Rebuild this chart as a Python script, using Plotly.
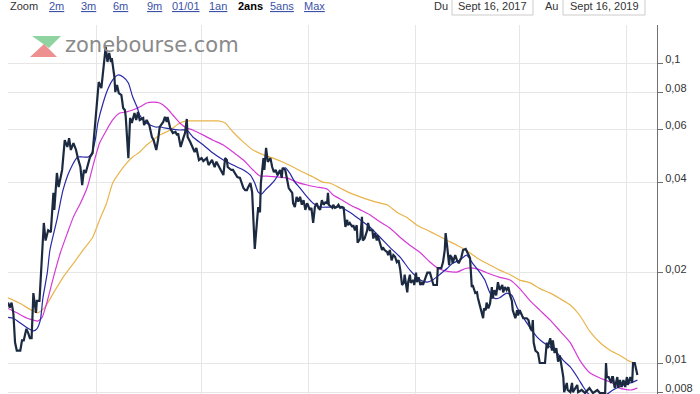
import plotly.graph_objects as go
import pandas as pd

# ---------------- data ----------------
BASE = pd.Timestamp("2017-09-16")  # "Du" date; offsets below are days after it

price_days = [5, 7, 9, 11, 13, 15, 19, 21, 23, 26, 28, 30, 32, 34, 37, 38, 41, 43, 45, 46, 48, 51, 54, 57, 58,
              61, 63, 67, 70, 73, 75, 77, 80, 83, 85, 88, 90, 92, 94, 97, 99, 102, 105, 107, 109, 112, 114, 115,
              117, 119, 121, 123, 124, 127, 128, 130, 132, 135, 137, 139, 140, 143, 145, 147, 150, 152, 154, 156,
              160, 161, 164, 167, 170, 172, 175, 177, 179,
              183, 185, 187, 188, 191, 193, 194, 197, 199, 200, 203, 206, 208, 210, 211, 214, 216, 217, 219, 221,
              224, 227, 229, 233, 235, 239, 240, 242, 244, 247, 250, 252, 254, 256, 257, 261, 263, 265, 268, 271,
              273, 275, 277, 279, 280, 283, 285, 286, 288, 291, 292, 294, 295, 298, 299, 301, 302, 303, 306, 308,
              310, 312, 314, 315, 317, 319, 320, 323, 325, 327, 331, 332, 334, 336, 338, 340, 342, 344, 346, 348,
              349, 351, 353, 355, 357, 359, 361, 363,
              365, 367, 369, 371, 372, 373, 377, 378, 380, 382, 384, 386, 388, 390, 392, 394, 395, 397, 400, 401,
              403, 405, 406, 409, 411, 412, 414, 417, 418, 420, 423, 424, 426, 428, 429, 432, 434, 435, 437, 440,
              441, 443, 445, 447, 449, 451, 453, 455, 457, 459, 460, 462, 463, 464, 466, 467, 470, 471, 473, 474,
              476, 478, 480, 481, 483, 486, 489, 491, 493, 497, 498, 502, 504, 506, 507, 509, 511, 512, 514, 515,
              518, 520, 522, 525, 527, 530, 533, 535, 537, 538, 541, 543, 544, 546,
              549, 550, 551, 553, 554, 556, 558, 560, 561, 563, 565, 567, 569, 572, 573, 575, 577, 579, 581, 583,
              584, 587, 589, 590, 592, 595, 596, 600, 602, 604, 606, 607, 608, 610, 613, 615, 621, 623, 624, 627,
              629, 630, 632, 634, 636, 638, 640, 642, 643, 646, 647, 650, 652, 653, 658, 659, 663, 667, 672, 676,
              681, 684, 690, 691, 692, 694, 697, 698, 699, 701, 704, 705, 707, 709, 711, 713, 715, 716, 719, 721,
              722, 724, 727]
price_values = [0.0159, 0.0153, 0.0159, 0.0147, 0.0117, 0.0110, 0.0110, 0.0119, 0.0119, 0.0130, 0.0126, 0.0121,
                0.0121, 0.0171, 0.0147, 0.0161, 0.0161, 0.0204, 0.0251, 0.0293, 0.0256, 0.0277, 0.0273, 0.0369,
                0.0324, 0.0430, 0.0386, 0.0440, 0.0553, 0.0525, 0.0562, 0.0513, 0.0541, 0.0513, 0.0482, 0.0450,
                0.0392, 0.0440, 0.0430, 0.0464, 0.0486, 0.0501, 0.0646, 0.0770, 0.0864, 0.0825, 0.0926, 0.1000,
                0.1131, 0.1008, 0.1080, 0.1008, 0.1039, 0.0898, 0.0800, 0.0845, 0.0794, 0.0782, 0.0708, 0.0697,
                0.0661, 0.0482, 0.0656, 0.0631, 0.0681, 0.0646, 0.0687, 0.0646, 0.0656, 0.0621, 0.0646, 0.0621,
                0.0567, 0.0553, 0.0513, 0.0553, 0.0612,
                0.0636, 0.0661, 0.0636, 0.0661, 0.0607, 0.0589, 0.0584, 0.0589, 0.0575, 0.0584, 0.0525, 0.0562,
                0.0584, 0.0651, 0.0567, 0.0545, 0.0525, 0.0521, 0.0505, 0.0521, 0.0475, 0.0482, 0.0471, 0.0482,
                0.0457, 0.0475, 0.0468, 0.0450, 0.0469, 0.0450, 0.0433, 0.0423, 0.0482, 0.0475, 0.0450, 0.0440,
                0.0440, 0.0430, 0.0417, 0.0414, 0.0398, 0.0383, 0.0377, 0.0377, 0.0383, 0.0398, 0.0371, 0.0316,
                0.0240, 0.0307, 0.0331, 0.0318, 0.0398, 0.0482, 0.0440, 0.0521, 0.0486, 0.0468, 0.0482, 0.0450,
                0.0433, 0.0440, 0.0423, 0.0430, 0.0440, 0.0414, 0.0447, 0.0440, 0.0407, 0.0383, 0.0369, 0.0341,
                0.0331, 0.0358, 0.0345, 0.0358, 0.0337, 0.0349, 0.0324, 0.0341, 0.0337, 0.0324, 0.0329, 0.0293,
                0.0331, 0.0341, 0.0329, 0.0324,
                0.0349, 0.0337, 0.0343, 0.0341, 0.0369, 0.0337, 0.0329, 0.0337, 0.0329, 0.0331, 0.0337, 0.0329,
                0.0331, 0.0329, 0.0284, 0.0300, 0.0288, 0.0293, 0.0284, 0.0288, 0.0277, 0.0288, 0.0252, 0.0260,
                0.0307, 0.0256, 0.0260, 0.0277, 0.0293, 0.0277, 0.0277, 0.0260, 0.0271, 0.0256, 0.0267, 0.0251,
                0.0238, 0.0243, 0.0238, 0.0234, 0.0229, 0.0238, 0.0220, 0.0229, 0.0226, 0.0217, 0.0220, 0.0204,
                0.0182, 0.0185, 0.0197, 0.0179, 0.0172, 0.0186, 0.0197, 0.0185, 0.0189, 0.0182, 0.0200, 0.0186,
                0.0193, 0.0182, 0.0186, 0.0182, 0.0189, 0.0200, 0.0200, 0.0189, 0.0182, 0.0182, 0.0207, 0.0207,
                0.0217, 0.0238, 0.0271, 0.0241, 0.0212, 0.0229, 0.0225, 0.0215, 0.0229, 0.0220, 0.0215, 0.0225,
                0.0238, 0.0240, 0.0229, 0.0224, 0.0179, 0.0182, 0.0171, 0.0172, 0.0165, 0.0156,
                0.0147, 0.0141, 0.0152, 0.0150, 0.0159, 0.0152, 0.0158, 0.0179, 0.0164, 0.0175, 0.0168, 0.0186,
                0.0175, 0.0182, 0.0172, 0.0179, 0.0175, 0.0179, 0.0168, 0.0161, 0.0150, 0.0141, 0.0150, 0.0144,
                0.0150, 0.0142, 0.0141, 0.0141, 0.0139, 0.0131, 0.0128, 0.0139, 0.0117, 0.0110, 0.0108, 0.0100,
                0.0100, 0.0117, 0.0112, 0.0121, 0.0110, 0.0119, 0.0108, 0.0112, 0.0101, 0.0106, 0.00985, 0.00898,
                0.0080, 0.00858, 0.00813, 0.0080, 0.00858, 0.0080, 0.00845, 0.0080, 0.00813, 0.00794, 0.00825,
                0.00794, 0.00813, 0.00794, 0.00794, 0.0100, 0.00898, 0.00898, 0.00858, 0.00898, 0.00898, 0.00825,
                0.00898, 0.00825, 0.00878, 0.00832, 0.00878, 0.00832, 0.00898, 0.00845, 0.00898, 0.00858, 0.0100,
                0.0100, 0.00912]

ma_short_days = [5, 11, 19, 27, 34, 38, 42, 45, 50, 53, 61, 68, 76, 85, 91, 97, 101, 105, 108, 114, 120, 125,
                 131, 137, 143, 148, 153, 156, 162, 168, 174, 179, 191, 202, 210, 217, 229, 240, 252, 263, 275,
                 283, 288, 292, 296, 300, 306, 311, 317, 323, 328, 334, 340, 348, 355, 363, 374, 386, 397, 409,
                 420, 432, 443, 455, 466, 478, 486, 492, 500, 509, 515, 523, 531, 538, 546, 552, 558, 564, 569,
                 577, 583, 589, 596, 604, 612, 619, 627, 635, 642, 650, 658, 665, 670, 678, 690, 699, 711, 722, 727]
ma_short_values = [0.0142, 0.0141, 0.0136, 0.0131, 0.0128, 0.0130, 0.0139, 0.0165, 0.0200, 0.0238, 0.0300,
                   0.0377, 0.0440, 0.0486, 0.0486, 0.0486, 0.0501, 0.0553, 0.0631, 0.0736, 0.0825, 0.0878,
                   0.0912, 0.0898, 0.0858, 0.0770, 0.0713, 0.0671, 0.0636, 0.0621, 0.0612, 0.0612, 0.0603,
                   0.0598, 0.0598, 0.0567, 0.0533, 0.0501, 0.0475, 0.0457, 0.0440, 0.0423, 0.0398, 0.0371,
                   0.0366, 0.0377, 0.0392, 0.0407, 0.0433, 0.0447, 0.0430, 0.0401, 0.0383, 0.0358, 0.0341,
                   0.0331, 0.0331, 0.0331, 0.0318, 0.0300, 0.0284, 0.0262, 0.0243, 0.0225, 0.0204, 0.0189,
                   0.0186, 0.0189, 0.0197, 0.0207, 0.0215, 0.0220, 0.0229, 0.0215, 0.0201, 0.0189, 0.0171,
                   0.0164, 0.0165, 0.0171, 0.0168, 0.0153, 0.0142, 0.0131, 0.0122, 0.0117, 0.0113, 0.0108,
                   0.0102, 0.0097, 0.00898, 0.00832, 0.00794, 0.00764, 0.0078, 0.00813, 0.00845, 0.00864, 0.00878]

ma_mid_days = [5, 15, 27, 34, 39, 44, 50, 57, 65, 73, 80, 88, 96, 102, 110, 118, 125, 133, 141, 148, 156, 164,
               171, 179, 187, 194, 202, 210, 217, 229, 240, 252, 263, 275, 286, 294, 302, 313, 325, 336, 348,
               359, 371, 378, 386, 397, 409, 420, 432, 443, 455, 466, 478, 489, 498, 509, 520, 531, 543, 554,
               569, 581, 592, 604, 615, 627, 638, 650, 661, 672, 684, 696, 707, 719, 727]
ma_mid_values = [0.0152, 0.0147, 0.0141, 0.0139, 0.0138, 0.0142, 0.0161, 0.0193, 0.0233, 0.0271, 0.0307,
                 0.0341, 0.0386, 0.0450, 0.0541, 0.0598, 0.0646, 0.0681, 0.0687, 0.0697, 0.0713, 0.0736,
                 0.0741, 0.0736, 0.0708, 0.0671, 0.0631, 0.0607, 0.0598, 0.0575, 0.0553, 0.0533, 0.0505,
                 0.0475, 0.0440, 0.0420, 0.0420, 0.0417, 0.0414, 0.0401, 0.0392, 0.0386, 0.0380, 0.0363,
                 0.0352, 0.0337, 0.0324, 0.0312, 0.0295, 0.0282, 0.0262, 0.0247, 0.0233, 0.0217, 0.0207,
                 0.0202, 0.0201, 0.0207, 0.0206, 0.0200, 0.0193, 0.0189, 0.0177, 0.0161, 0.0150, 0.0139,
                 0.0128, 0.0117, 0.0102, 0.0093, 0.00891, 0.00864, 0.00825, 0.00813, 0.00825]

ma_long_days = [5, 19, 30, 39, 47, 57, 68, 80, 91, 102, 110, 118, 125, 133, 141, 148, 156, 164, 171, 179, 191,
                202, 211, 225, 237, 246, 254, 263, 275, 286, 298, 309, 320, 332, 343, 355, 366, 374, 386, 397,
                409, 420, 432, 440, 451, 463, 474, 486, 497, 509, 520, 532, 543, 554, 569, 581, 592, 604, 615,
                627, 638, 650, 661, 672, 684, 696, 707, 716, 724]
ma_long_values = [0.0165, 0.0158, 0.0151, 0.0147, 0.0153, 0.0171, 0.0193, 0.0215, 0.0238, 0.0262, 0.0300,
                  0.0341, 0.0398, 0.0433, 0.0464, 0.0486, 0.0505, 0.0533, 0.0553, 0.0575, 0.0598, 0.0631,
                  0.0641, 0.0641, 0.0641, 0.0641, 0.0631, 0.0589, 0.0545, 0.0513, 0.0494, 0.0482, 0.0468,
                  0.0450, 0.0433, 0.0417, 0.0401, 0.0398, 0.0383, 0.0369, 0.0358, 0.0349, 0.0341, 0.0337,
                  0.0318, 0.0305, 0.0288, 0.0277, 0.0267, 0.0256, 0.0247, 0.0236, 0.0224, 0.0215, 0.0204,
                  0.0197, 0.0189, 0.0185, 0.0177, 0.0171, 0.0164, 0.0156, 0.0144, 0.0128, 0.0117, 0.0110,
                  0.0106, 0.0102, 0.0100]

y_tick_values = [0.008, 0.01, 0.02, 0.04, 0.06, 0.08, 0.1]
y_tick_labels = ["0,008", "0,01", "0,02", "0,04", "0,06", "0,08", "0,1"]
grid_dates = ["2018-01-01", "2018-05-01", "2018-09-01", "2019-01-01", "2019-05-01", "2019-09-01"]
zoom_buttons = ["2m", "3m", "6m", "9m", "01/01", "1an", "2ans", "5ans", "Max"]
active_button = "2ans"
date_from = "Sept 16, 2017"
date_to = "Sept 16, 2019"


def to_dates(days):
    return [BASE + pd.Timedelta(days=d) for d in days]


# ---------------- layout geometry ----------------
W, H = 700, 394
L, R, T, B = 8, 657, 25, 394   # plot area in pixels


def px(x):
    return (x - L) / (R - L)


def py(y):
    return (B - y) / (B - T)


FONT = "Liberation Sans, Arial, sans-serif"

fig = go.Figure()
fig.add_trace(go.Scatter(x=to_dates(ma_long_days), y=ma_long_values, mode="lines",
                         line=dict(color="#e9b44c", width=1.2, shape="spline", smoothing=0.5), hoverinfo="skip"))
fig.add_trace(go.Scatter(x=to_dates(ma_mid_days), y=ma_mid_values, mode="lines",
                         line=dict(color="#d63ad6", width=1.2, shape="spline", smoothing=0.6), hoverinfo="skip"))
fig.add_trace(go.Scatter(x=to_dates(ma_short_days), y=ma_short_values, mode="lines",
                         line=dict(color="#2828a8", width=1.2, shape="spline", smoothing=0.6), hoverinfo="skip"))
fig.add_trace(go.Scatter(x=to_dates(price_days), y=price_values, mode="lines",
                         line=dict(color="#1b2a41", width=2.2), hoverinfo="skip"))

annotations = []
shapes = []

# range selector
annotations.append(dict(text="Zoom", x=px(8), y=py(6), xref="paper", yref="paper", xanchor="left",
                        yanchor="middle", showarrow=False, font=dict(family=FONT, size=11, color="#333333")))
btn_x = [47, 79, 111, 145, 170, 207, 236, 268, 302]
for lab, bx in zip(zoom_buttons, btn_x):
    if lab == active_button:
        txt, col = "<b>" + lab + "</b>", "#000000"
    else:
        txt, col = "<u>" + lab + "</u>", "#3b52a8"
    annotations.append(dict(text=txt, x=px(bx), y=py(6), xref="paper", yref="paper", xanchor="left",
                            yanchor="middle", showarrow=False, font=dict(family=FONT, size=11, color=col)))

# date inputs
for lab, lx in (("Du", 432), ("Au", 543)):
    annotations.append(dict(text=lab, x=px(lx), y=py(6), xref="paper", yref="paper", xanchor="left",
                            yanchor="middle", showarrow=False, font=dict(family=FONT, size=11, color="#333333")))
for txt, x0, x1 in ((date_from, 452, 533), (date_to, 563, 645)):
    shapes.append(dict(type="rect", xref="paper", yref="paper", x0=px(x0), x1=px(x1), y0=py(15), y1=py(-5),
                       line=dict(color="#cccccc", width=1), fillcolor="white"))
    annotations.append(dict(text=txt, x=px((x0 + x1) / 2), y=py(6), xref="paper", yref="paper",
                            xanchor="center", yanchor="middle", showarrow=False,
                            font=dict(family=FONT, size=11, color="#333333")))


# watermark logo
def path(pts):
    return "M " + " L ".join(f"{px(a):.5f},{py(b):.5f}" for a, b in pts) + " Z"


shapes.append(dict(type="path", xref="paper", yref="paper", path=path([(32, 36), (61, 36), (49, 48)]),
                   fillcolor="#8fd3a0", line=dict(width=0), layer="below"))
shapes.append(dict(type="path", xref="paper", yref="paper", path=path([(30, 57), (57, 57), (44, 44)]),
                   fillcolor="#ee9090", line=dict(width=0), layer="below"))
annotations.append(dict(text="zonebourse.com", x=px(63), y=py(45), xref="paper", yref="paper",
                        xanchor="left", yanchor="middle", showarrow=False,
                        font=dict(family="DejaVu Sans", size=21, color="#8a8a8a")))

fig.update_layout(
    width=W, height=H,
    margin=dict(l=L, r=W - R, t=T, b=H - B, pad=0),
    paper_bgcolor="white", plot_bgcolor="white",
    showlegend=False,
    annotations=annotations, shapes=shapes,
    xaxis=dict(type="date",
               range=[BASE + pd.Timedelta(days=4.9), BASE + pd.Timedelta(days=749.5)],
               tickvals=grid_dates, showticklabels=False, ticks="",
               showgrid=True, gridcolor="#e6e6e6", gridwidth=1, zeroline=False, showline=False),
    yaxis=dict(type="log", side="right", range=[-2.1033, -0.8733],
               tickvals=y_tick_values, ticktext=y_tick_labels,
               showgrid=True, gridcolor="#e6e6e6", gridwidth=1, zeroline=False,
               showline=True, linecolor="#707070", linewidth=1,
               ticks="outside", ticklen=5, tickcolor="#707070", tickwidth=1,
               ticklabelshift=-4, ticklabeloverflow="allow",
               tickfont=dict(family=FONT, size=11, color="#333333")),
)

fig.write_html("out.html", config={"displayModeBar": False},
               post_script="document.body.style.margin='0';document.body.style.overflow='hidden';")
